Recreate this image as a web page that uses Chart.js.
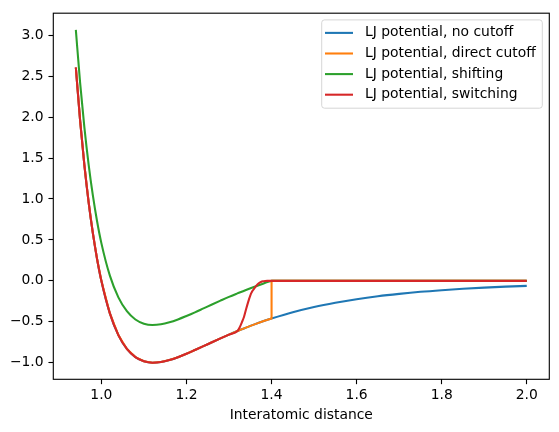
<!DOCTYPE html>
<html>
<head>
<meta charset="utf-8">
<script src="https://cdn.jsdelivr.net/npm/chart.js@4/dist/chart.umd.min.js"></script>
<style>
  html, body { margin: 0; padding: 0; background: #ffffff; }
  #wrap { width: 559px; height: 432px; }
</style>
</head>
<body>
<div id="wrap"><canvas id="c" width="559" height="432"></canvas></div>
<script>
// ---- data ----
const seriesLabels = [
  "LJ potential, no cutoff",
  "LJ potential, direct cutoff",
  "LJ potential, shifting",
  "LJ potential, switching"
];
const xTicks = [1.0, 1.2, 1.4, 1.6, 1.8, 2.0];
const yTicks = [-1.0, -0.5, 0.0, 0.5, 1.0, 1.5, 2.0, 2.5, 3.0];
const xLabel = "Interatomic distance";

const rBase = [0.94, 0.95, 0.96, 0.97, 0.98, 0.99, 1.00, 1.02, 1.04, 1.06, 1.08, 1.10, 1.12, 1.14, 1.16,
  1.18, 1.20, 1.22, 1.24, 1.26, 1.28, 1.30, 1.32, 1.34, 1.36, 1.38, 1.40,
  1.45, 1.50, 1.55, 1.60, 1.65, 1.70, 1.75, 1.80, 1.85, 1.90, 1.95, 2.00];

const vNoCutoff = [2.607, 1.961, 1.418, 0.963, 0.582, 0.264, 0.000, -0.398, -0.663, -0.832, -0.932, -0.983, -1.000, -0.992, -0.968,
  -0.933, -0.891, -0.845, -0.798, -0.750, -0.703, -0.657, -0.613, -0.572, -0.532, -0.495, -0.461,
  -0.384, -0.320, -0.268, -0.224, -0.188, -0.159, -0.134, -0.114, -0.097, -0.083, -0.071, -0.062];

const rCut = [0.94, 0.95, 0.96, 0.97, 0.98, 0.99, 1.00, 1.02, 1.04, 1.06, 1.08, 1.10, 1.12, 1.14, 1.16,
  1.18, 1.20, 1.22, 1.24, 1.26, 1.28, 1.30, 1.32, 1.34, 1.36, 1.38, 1.40, 1.4001,
  1.45, 1.50, 1.55, 1.60, 1.65, 1.70, 1.75, 1.80, 1.85, 1.90, 1.95, 2.00];

const vDirectCutoff = [2.607, 1.961, 1.418, 0.963, 0.582, 0.264, 0.000, -0.398, -0.663, -0.832, -0.932, -0.983, -1.000, -0.992, -0.968,
  -0.933, -0.891, -0.845, -0.798, -0.750, -0.703, -0.657, -0.613, -0.572, -0.532, -0.495, -0.461, 0.000,
  0, 0, 0, 0, 0, 0, 0, 0, 0, 0, 0, 0];

const vShifting = [3.067, 2.422, 1.879, 1.424, 1.043, 0.725, 0.461, 0.063, -0.202, -0.371, -0.472, -0.523, -0.539, -0.531, -0.507,
  -0.472, -0.430, -0.385, -0.337, -0.289, -0.242, -0.196, -0.153, -0.111, -0.072, -0.035, 0.000,
  0, 0, 0, 0, 0, 0, 0, 0, 0, 0, 0, 0];

const rSwitch = [0.94, 0.95, 0.96, 0.97, 0.98, 0.99, 1.00, 1.02, 1.04, 1.06, 1.08, 1.10, 1.12, 1.14, 1.16,
  1.18, 1.20, 1.22, 1.24, 1.26, 1.28, 1.30, 1.32,
  1.325, 1.33, 1.335, 1.34, 1.345, 1.35, 1.355, 1.36, 1.365, 1.37, 1.375, 1.38, 1.385, 1.39, 1.40,
  1.45, 1.50, 1.55, 1.60, 1.65, 1.70, 1.75, 1.80, 1.85, 1.90, 1.95, 2.00];

const vSwitching = [2.607, 1.961, 1.418, 0.963, 0.582, 0.264, 0.000, -0.398, -0.663, -0.832, -0.932, -0.983, -1.000, -0.992, -0.968,
  -0.933, -0.891, -0.845, -0.798, -0.750, -0.703, -0.657, -0.613,
  -0.570, -0.510, -0.445, -0.350, -0.260, -0.180, -0.125, -0.090, -0.055, -0.030, -0.014, -0.005, -0.001, 0.000, 0.000,
  0, 0, 0, 0, 0, 0, 0, 0, 0, 0, 0, 0];

// ---- styling ----
const colors = ["#1f77b4", "#ff7f0e", "#2ca02c", "#d62728"];
const FONT = "'DejaVu Sans', 'Liberation Sans', sans-serif";
const FS = 13.89;
const LW = 2.08;
const SPINE = 1.11;

const pts = (xs, ys) => xs.map((x, i) => ({ x: x, y: ys[i] }));
const fmt = v => (Math.round(v * 10) / 10).toFixed(1).replace('-', '\u2212');

const frameAndLegend = {
  id: 'frameAndLegend',
  afterDatasetsDraw(chart) {
    const { ctx, chartArea: a } = chart;
    ctx.save();
    // full frame (spines)
    ctx.strokeStyle = '#000';
    ctx.lineWidth = SPINE;
    ctx.strokeRect(a.left, a.top, a.right - a.left, a.bottom - a.top);

    // legend box (matplotlib style, upper right)
    const bw = 220.6, bh = 88.3;
    const bx = a.right - 7 - bw, by = a.top + 6.7;
    const r = 2.8;
    ctx.beginPath();
    ctx.moveTo(bx + r, by);
    ctx.lineTo(bx + bw - r, by);
    ctx.arcTo(bx + bw, by, bx + bw, by + r, r);
    ctx.lineTo(bx + bw, by + bh - r);
    ctx.arcTo(bx + bw, by + bh, bx + bw - r, by + bh, r);
    ctx.lineTo(bx + r, by + bh);
    ctx.arcTo(bx, by + bh, bx, by + bh - r, r);
    ctx.lineTo(bx, by + r);
    ctx.arcTo(bx, by, bx + r, by, r);
    ctx.closePath();
    ctx.fillStyle = 'rgba(255,255,255,0.8)';
    ctx.fill();
    ctx.strokeStyle = 'rgba(204,204,204,0.8)';
    ctx.lineWidth = 1;
    ctx.stroke();

    ctx.font = FS + 'px ' + FONT;
    ctx.textBaseline = 'middle';
    ctx.textAlign = 'left';
    chart.data.datasets.forEach((ds, i) => {
      const yy = by + 13 + i * 20.6;
      ctx.strokeStyle = ds.borderColor;
      ctx.lineWidth = LW;
      ctx.beginPath();
      ctx.moveTo(bx + 3.3, yy);
      ctx.lineTo(bx + 31.3, yy);
      ctx.stroke();
      ctx.fillStyle = '#000';
      ctx.fillText(ds.label, bx + 43.3, yy);
    });
    ctx.restore();
  }
};

const mkDataset = (label, xs, ys, color, order, smooth) => ({
  label: label,
  data: pts(xs, ys),
  borderColor: color,
  backgroundColor: color,
  borderWidth: LW,
  pointRadius: 0,
  fill: false,
  order: order,
  cubicInterpolationMode: smooth ? 'monotone' : 'default',
  tension: 0,
  borderCapStyle: 'butt',
  borderJoinStyle: 'round'
});

new Chart(document.getElementById('c'), {
  type: 'line',
  data: {
    datasets: [
      mkDataset(seriesLabels[0], rBase, vNoCutoff, colors[0], 3, true),
      mkDataset(seriesLabels[1], rCut, vDirectCutoff, colors[1], 2, false),
      mkDataset(seriesLabels[2], rBase, vShifting, colors[2], 1, true),
      mkDataset(seriesLabels[3], rSwitch, vSwitching, colors[3], 0, true)
    ]
  },
  options: {
    responsive: false,
    animation: false,
    devicePixelRatio: 1,
    layout: { padding: { top: 9.3, right: 9.7, left: 0, bottom: 0 } },
    plugins: { legend: { display: false }, tooltip: { enabled: false } },
    scales: {
      x: {
        type: 'linear',
        min: 0.887,
        max: 2.053,
        afterBuildTicks: s => { s.ticks = xTicks.map(v => ({ value: v })); },
        afterFit: s => { s.height = 52.7; },
        grid: { drawOnChartArea: false, drawTicks: true, tickLength: 4.86, tickColor: '#000', tickWidth: SPINE },
        border: { display: false },
        ticks: {
          color: '#000',
          font: { family: FONT, size: FS },
          padding: 3.3,
          maxRotation: 0,
          autoSkip: false,
          callback: v => fmt(v)
        },
        title: {
          display: true,
          text: xLabel,
          color: '#000',
          font: { family: FONT, size: FS },
          padding: { top: 0, bottom: 8.4 }
        }
      },
      y: {
        type: 'linear',
        min: -1.203,
        max: 3.270,
        afterBuildTicks: s => { s.ticks = yTicks.map(v => ({ value: v })); },
        afterFit: s => { s.width = 53.3; },
        grid: { drawOnChartArea: false, drawTicks: true, tickLength: 4.86, tickColor: '#000', tickWidth: SPINE },
        border: { display: false },
        ticks: {
          color: '#000',
          font: { family: FONT, size: FS },
          padding: 4.86,
          autoSkip: false,
          callback: v => fmt(v)
        }
      }
    }
  },
  plugins: [frameAndLegend]
});
</script>
</body>
</html>
